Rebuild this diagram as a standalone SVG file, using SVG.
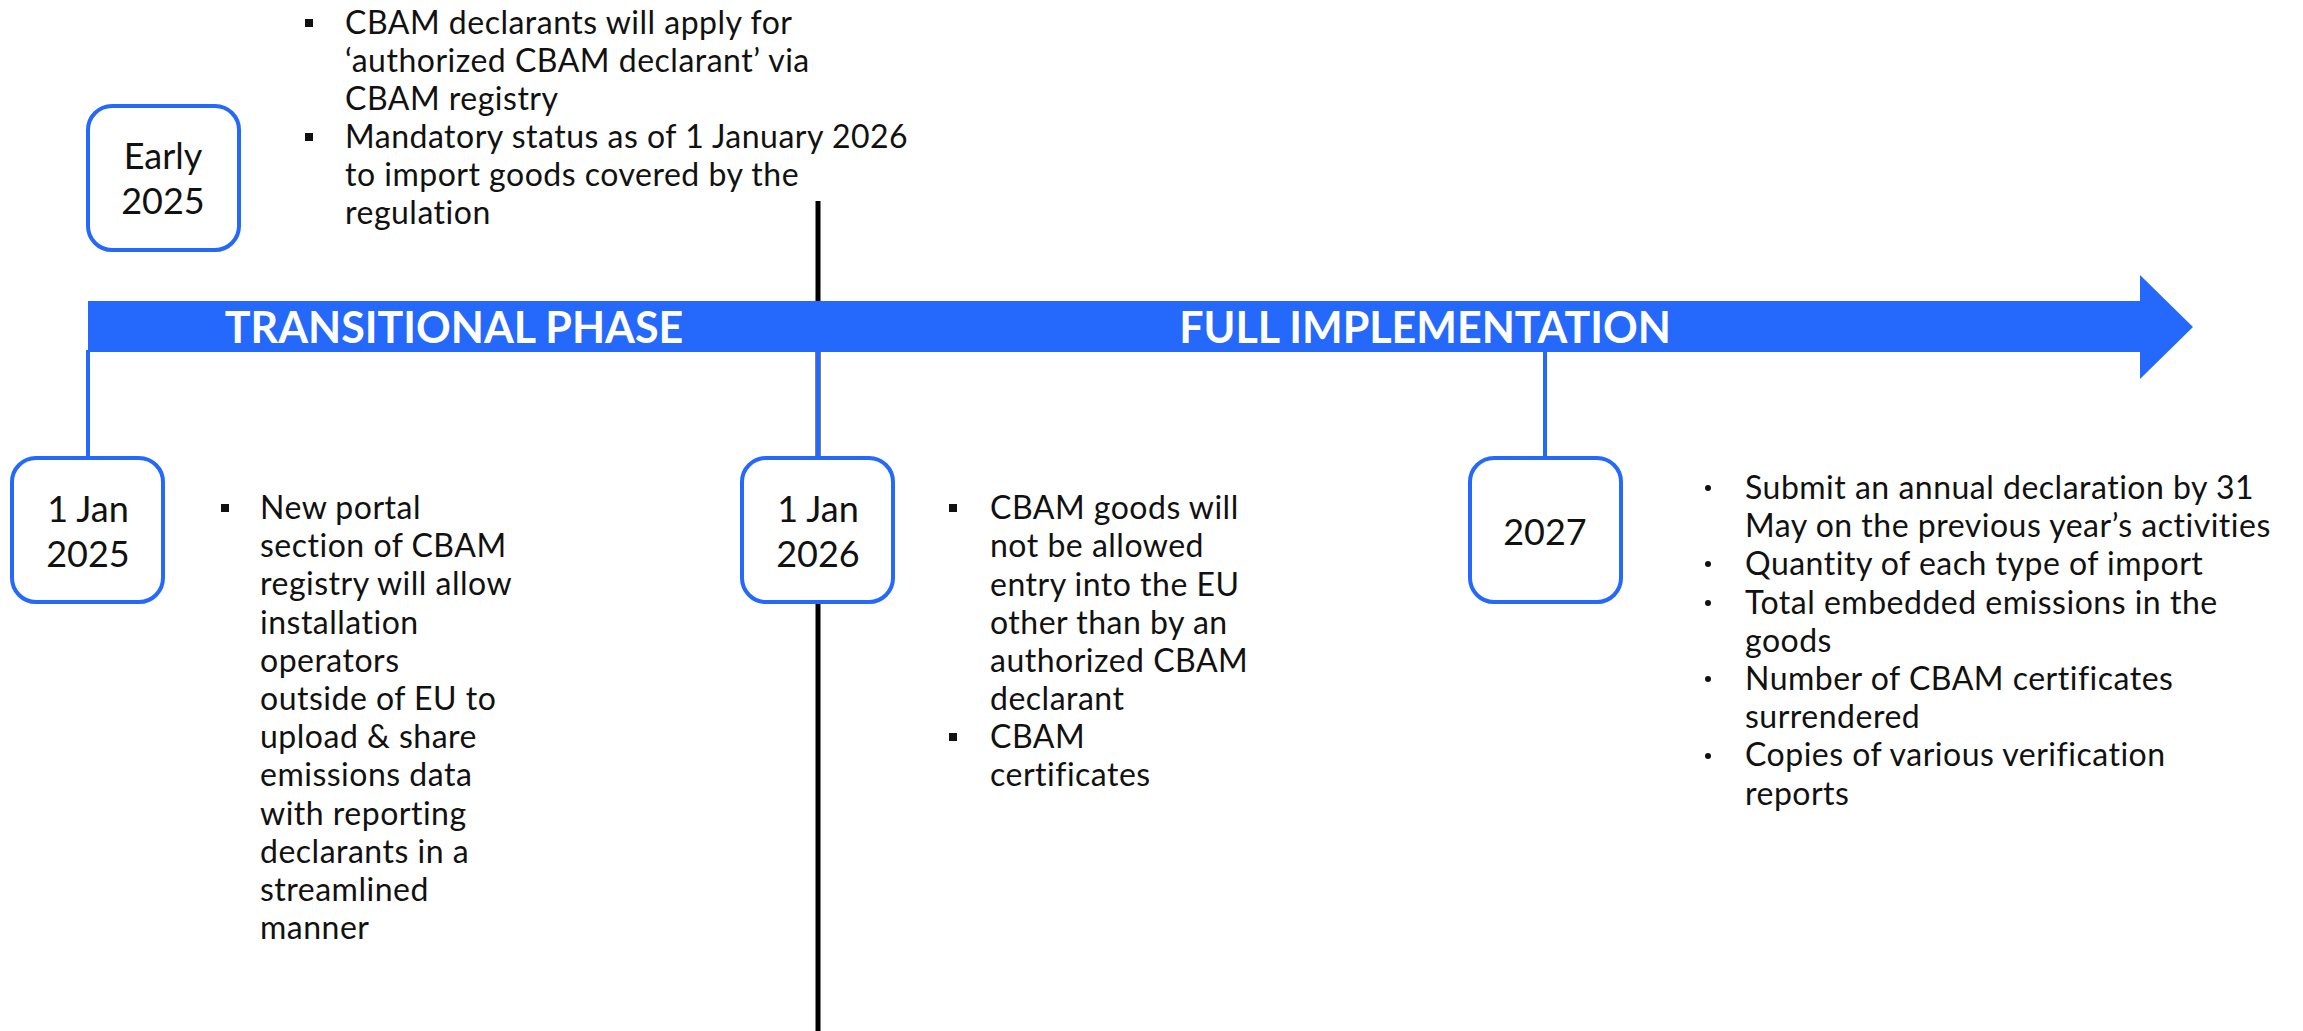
<svg xmlns="http://www.w3.org/2000/svg" width="2303" height="1031" viewBox="0 0 2303 1031">
  <style>
    .txt { font-family: Lato, "Open Sans", "Liberation Sans", sans-serif; font-size: 32px; letter-spacing: 0.5px; fill: #111; }
    .date { font-family: Lato, "Open Sans", "Liberation Sans", sans-serif; font-size: 36px; fill: #111; text-anchor: middle; }
    .phase { font-family: Lato, "Open Sans", "Liberation Sans", sans-serif; font-size: 43px; font-weight: 700; fill: #fff; text-anchor: middle; }
    .box { fill: #fff; stroke: #2468FC; stroke-width: 4; }
    .link { stroke: #2468FC; stroke-width: 4; fill: none; }
    .divider { stroke: #000; stroke-width: 5; }
    .sq { fill: #111; }
  </style>
  <rect width="2303" height="1031" fill="#fff"/>

  <!-- phase divider behind the timeline -->
  <line class="divider" x1="818" y1="201" x2="818" y2="1031"/>

  <!-- timeline arrow -->
  <g id="timeline">
    <polygon points="88,301 2140,301 2140,275 2193,327 2140,379 2140,352 88,352" fill="#2468FC"/>
    <text class="phase" x="454" y="343">TRANSITIONAL PHASE</text>
    <text class="phase" x="1425" y="343">FULL IMPLEMENTATION</text>
  </g>

  <!-- connectors from timeline to milestones -->
  <g id="connectors">
    <line class="link" x1="88" y1="350" x2="88" y2="458"/>
    <line class="link" x1="818" y1="350" x2="818" y2="458"/>
    <line class="link" x1="1545" y1="350" x2="1545" y2="458"/>
  </g>

  <g id="early-2025">
    <rect class="box" x="88" y="106" width="151" height="144" rx="24"/>
    <text class="date" x="163" y="169">Early</text>
    <text class="date" x="163" y="214">2025</text>
  </g>

  <g id="jan-2025">
    <rect class="box" x="12" y="458" width="151" height="144" rx="24"/>
    <text class="date" x="88" y="522">1 Jan</text>
    <text class="date" x="88" y="567">2025</text>
  </g>

  <g id="jan-2026">
    <rect class="box" x="742" y="458" width="151" height="144" rx="24"/>
    <text class="date" x="818" y="522">1 Jan</text>
    <text class="date" x="818" y="567">2026</text>
  </g>

  <g id="y2027">
    <rect class="box" x="1470" y="458" width="151" height="144" rx="24"/>
    <text class="date" x="1545" y="545">2027</text>
  </g>

  <!-- notes for early 2025 -->
  <g id="notes-early-2025">
    <rect class="sq" x="305" y="19" width="8" height="8"/>
    <rect class="sq" x="305" y="133" width="8" height="8"/>
    <text class="txt">
      <tspan x="345" y="34">CBAM declarants will apply for</tspan>
      <tspan x="345" y="72">‘authorized CBAM declarant’ via</tspan>
      <tspan x="345" y="110">CBAM registry</tspan>
      <tspan x="345" y="148">Mandatory status as of 1 January 2026</tspan>
      <tspan x="345" y="186">to import goods covered by the</tspan>
      <tspan x="345" y="224">regulation</tspan>
    </text>
  </g>

  <!-- notes for 1 Jan 2025 -->
  <g id="notes-jan-2025">
    <rect class="sq" x="221" y="504" width="8" height="8"/>
    <text class="txt">
      <tspan x="260" y="519">New portal</tspan>
      <tspan x="260" y="557">section of CBAM</tspan>
      <tspan x="260" y="595">registry will allow</tspan>
      <tspan x="260" y="634">installation</tspan>
      <tspan x="260" y="672">operators</tspan>
      <tspan x="260" y="710">outside of EU to</tspan>
      <tspan x="260" y="748">upload &amp; share</tspan>
      <tspan x="260" y="786">emissions data</tspan>
      <tspan x="260" y="825">with reporting</tspan>
      <tspan x="260" y="863">declarants in a</tspan>
      <tspan x="260" y="901">streamlined</tspan>
      <tspan x="260" y="939">manner</tspan>
    </text>
  </g>

  <!-- notes for 1 Jan 2026 -->
  <g id="notes-jan-2026">
    <rect class="sq" x="949" y="504" width="8" height="8"/>
    <rect class="sq" x="949" y="733" width="8" height="8"/>
    <text class="txt">
      <tspan x="990" y="519">CBAM goods will</tspan>
      <tspan x="990" y="557">not be allowed</tspan>
      <tspan x="990" y="596">entry into the EU</tspan>
      <tspan x="990" y="634">other than by an</tspan>
      <tspan x="990" y="672">authorized CBAM</tspan>
      <tspan x="990" y="710">declarant</tspan>
      <tspan x="990" y="748">CBAM</tspan>
      <tspan x="990" y="786">certificates</tspan>
    </text>
  </g>

  <!-- notes for 2027 -->
  <g id="notes-2027">
    <circle class="sq" cx="1708" cy="488" r="3"/>
    <circle class="sq" cx="1708" cy="564" r="3"/>
    <circle class="sq" cx="1708" cy="603" r="3"/>
    <circle class="sq" cx="1708" cy="679" r="3"/>
    <circle class="sq" cx="1708" cy="756" r="3"/>
    <text class="txt">
      <tspan x="1745" y="499">Submit an annual declaration by 31</tspan>
      <tspan x="1745" y="537">May on the previous year’s activities</tspan>
      <tspan x="1745" y="575">Quantity of each type of import</tspan>
      <tspan x="1745" y="614">Total embedded emissions in the</tspan>
      <tspan x="1745" y="652">goods</tspan>
      <tspan x="1745" y="690">Number of CBAM certificates</tspan>
      <tspan x="1745" y="728">surrendered</tspan>
      <tspan x="1745" y="766">Copies of various verification</tspan>
      <tspan x="1745" y="805">reports</tspan>
    </text>
  </g>
</svg>
